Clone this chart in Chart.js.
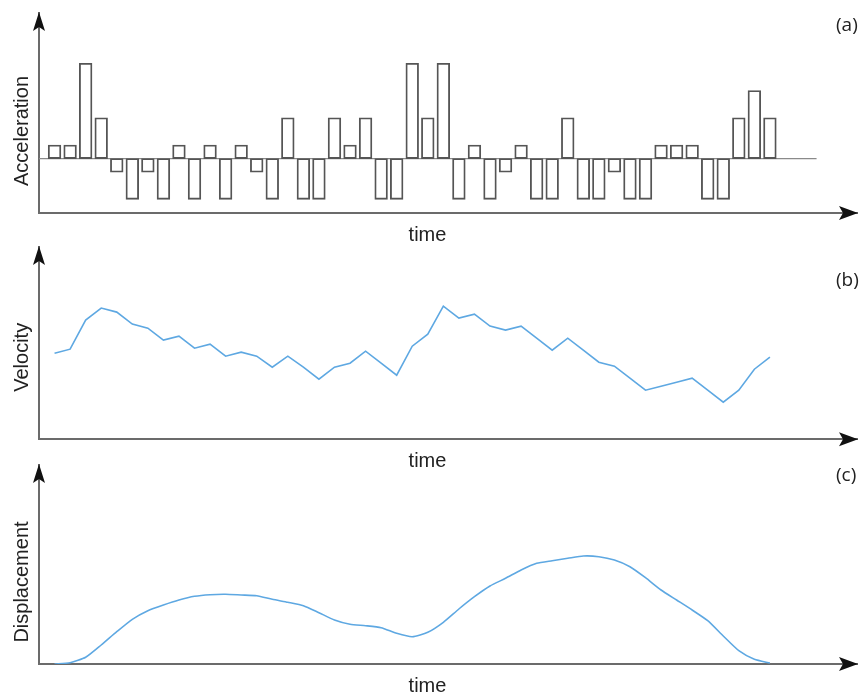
<!DOCTYPE html>
<html>
<head>
<meta charset="utf-8">
<script src="https://cdn.jsdelivr.net/npm/chart.js@4/dist/chart.umd.min.js"></script>
<style>
  html, body { margin: 0; padding: 0; background: #fff; }
  #wrap { position: relative; width: 861px; height: 692px; overflow: hidden; }
  canvas { position: absolute; left: 0; }
</style>
</head>
<body>
<div id="wrap">
  <canvas id="accChart" width="861" height="245" style="top:0px"></canvas>
  <canvas id="velChart" width="861" height="225" style="top:243px"></canvas>
  <canvas id="dispChart" width="861" height="230" style="top:462px"></canvas>
</div>
<script>
// time steps 1..47 (one per bar)
var steps = [];
for (var i = 1; i <= 47; i++) steps.push(i);

var acceleration = [1, 1, 7, 3, -1, -3, -1, -3, 1, -3, 1, -3, 1, -1, -3, 3, -3, -3, 3, 1,
    3, -3, -3, 7, 3, 7, -3, 1, -3, -1, 1, -3, -3, 3, -3, -3, -1, -3, -3, 1,
    1, 1, -3, -3, 3, 5, 3];

var velocity = [8.6, 9.0, 11.9, 13.1, 12.7, 11.5, 11.1, 9.9, 10.3, 9.1, 9.5, 8.3, 8.7, 8.3, 7.2,
    8.3, 7.2, 6.0, 7.2, 7.6, 8.8, 7.6, 6.4, 9.3, 10.5, 13.3, 12.1, 12.5, 11.3, 10.9,
    11.3, 10.1, 8.9, 10.1, 8.9, 7.7, 7.3, 6.1, 4.9, 5.3, 5.7, 6.1, 4.9, 3.7, 4.9, 7.0, 8.2];

var displacement = [0, 0.13, 0.67, 1.9, 3.23, 4.47, 5.33, 5.9, 6.4, 6.77, 6.93, 6.97, 6.9, 6.83, 6.47,
    6.17, 5.83, 5.13, 4.4, 3.97, 3.83, 3.63, 3.07, 2.73, 3.17, 4.17, 5.5, 6.73, 7.8, 8.57,
    9.4, 10.07, 10.33, 10.57, 10.8, 10.73, 10.4, 9.73, 8.63, 7.4, 6.4, 5.4, 4.33, 2.8, 1.33, 0.47, 0.1];

var baselineX = [0, 50];

var axisColor = "#6b6b6b";
var lineBlue = "#5ea8e2";

function toPoints(xs, ys) {
    return xs.map(function (x, i) { return { x: x, y: ys[i] }; });
}

// arrows, axis titles and panel tag
var decor = {
    id: "decor",
    afterDraw: function (chart, args, opts) {
        var ctx = chart.ctx;
        var a = chart.chartArea;
        ctx.save();
        ctx.fillStyle = "#111";
        // up arrow
        ctx.beginPath();
        ctx.moveTo(a.left, a.top - 1);
        ctx.lineTo(a.left + 6, a.top + 18);
        ctx.lineTo(a.left, a.top + 14);
        ctx.lineTo(a.left - 6, a.top + 18);
        ctx.closePath();
        ctx.fill();
        // right arrow
        ctx.beginPath();
        ctx.moveTo(a.right + 1, a.bottom);
        ctx.lineTo(a.right - 18, a.bottom - 7);
        ctx.lineTo(a.right - 14, a.bottom);
        ctx.lineTo(a.right - 18, a.bottom + 7);
        ctx.closePath();
        ctx.fill();

        ctx.fillStyle = "#222";
        ctx.font = "20px 'Liberation Sans', Arial, sans-serif";
        ctx.textAlign = "center";
        ctx.textBaseline = "alphabetic";
        ctx.fillText(opts.xTitle, 427.5, a.bottom + 27.5);

        ctx.save();
        ctx.translate(28, a.bottom - 82);
        ctx.rotate(-Math.PI / 2);
        ctx.fillText(opts.yTitle, 0, 0);
        ctx.restore();

        ctx.font = "19px 'Open Sans', sans-serif";
        ctx.textAlign = "left";
        ctx.fillText(opts.tag, 836, opts.tagY);
        ctx.restore();
    }
};

function axes(yMin, yMax) {
    var hidden = { display: false, drawTicks: false };
    return {
        x: {
            type: "linear", min: 0, max: 52.6, offset: false,
            grid: hidden, ticks: { display: false },
            border: { display: true, color: axisColor, width: 2 }
        },
        y: {
            min: yMin, max: yMax,
            grid: hidden, ticks: { display: false },
            border: { display: true, color: axisColor, width: 2 }
        }
    };
}

function baseOptions(pad, yMin, yMax, deco) {
    return {
        responsive: false,
        animation: false,
        layout: { padding: { left: 39, right: 4, top: pad[0], bottom: pad[1] } },
        scales: axes(yMin, yMax),
        plugins: { legend: { display: false }, tooltip: { enabled: false }, decor: deco }
    };
}

new Chart(document.getElementById("accChart"), {
    type: "bar",
    data: {
        datasets: [
            {
                type: "line",
                data: toPoints(baselineX, [0, 0]),
                borderColor: "#8a8a8a",
                borderWidth: 1.2,
                pointRadius: 0,
                order: 2
            },
            {
                data: toPoints(steps, acceleration),
                backgroundColor: "rgba(255,255,255,0)",
                borderColor: "#555",
                borderWidth: 1.2,
                borderSkipped: false,
                barThickness: 12.7,
                order: 1
            }
        ]
    },
    options: baseOptions([13, 32], -4, 10.7,
        { xTitle: "time", yTitle: "Acceleration", tag: "(a)", tagY: 31 }),
    plugins: [decor]
});

new Chart(document.getElementById("velChart"), {
    type: "line",
    data: {
        datasets: [{
            data: toPoints(steps, velocity),
            borderColor: lineBlue,
            borderWidth: 1.6,
            pointRadius: 0,
            tension: 0
        }]
    },
    options: baseOptions([4, 28.7], 0, 19.2,
        { xTitle: "time", yTitle: "Velocity", tag: "(b)", tagY: 43 }),
    plugins: [decor]
});

new Chart(document.getElementById("dispChart"), {
    type: "line",
    data: {
        datasets: [{
            data: toPoints(steps, displacement),
            borderColor: lineBlue,
            borderWidth: 1.6,
            pointRadius: 0,
            tension: 0.2
        }]
    },
    options: baseOptions([3, 28], 0, 19.9,
        { xTitle: "time", yTitle: "Displacement", tag: "(c)", tagY: 19 }),
    plugins: [decor]
});
</script>
</body>
</html>
